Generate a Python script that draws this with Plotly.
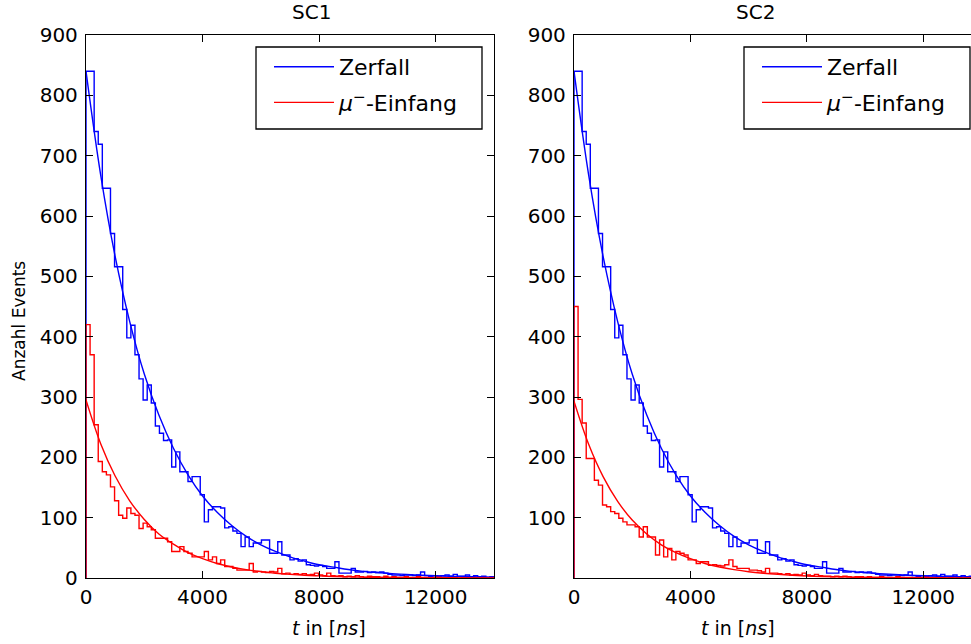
import numpy as np
import plotly.graph_objects as go

# ---------------- data ----------------
bin_width_ns = 140  # histogram bin width, 100 bins over 0..14000 ns

# SC1 / SC2 "Zerfall" (decay) histogram counts
zerfall_counts = [
    840, 840, 740, 719, 646, 646, 571, 516, 516, 445,
    398, 419, 370, 330, 295, 320, 290, 252, 240, 228,
    229, 184, 209, 176, 176, 160, 168, 168, 138, 93,
    113, 118, 118, 116, 83, 85, 78, 74, 52, 68,
    52, 58, 58, 63, 63, 41, 41, 60, 38, 38,
    30, 32, 28, 30, 22, 21, 20, 21, 19, 16,
    16, 27, 8, 8, 8, 16, 10, 10, 11, 9,
    10, 9, 10, 8, 6, 5, 5, 4, 5, 5,
    4, 5, 10, 4, 3, 4, 3, 4, 5, 3,
    6, 3, 3, 5, 2, 4, 2, 3, 1, 2,
]

# SC1 mu- capture histogram counts
einfang_sc1_counts = [
    420, 370, 254, 193, 176, 171, 151, 128, 104, 99,
    116, 107, 104, 82, 91, 85, 80, 66, 66, 66,
    60, 44, 44, 52, 44, 41, 35, 35, 35, 44,
    30, 35, 24, 30, 19, 19, 16, 13, 13, 13,
    24, 10, 11, 10, 9, 11, 10, 16, 7, 8,
    6, 7, 6, 7, 5, 6, 8, 5, 4, 8,
    4, 3, 4, 2, 3, 2, 4, 2, 1, 3,
    2, 2, 1, 3, 1, 2, 1, 1, 2, 1,
    1, 2, 1, 1, 0, 1, 2, 1, 0, 1,
    1, 0, 1, 1, 0, 1, 0, 1, 0, 1,
]

# SC2 mu- capture histogram counts
einfang_sc2_counts = [
    450, 296, 257, 198, 198, 162, 154, 121, 118, 110,
    107, 99, 93, 88, 88, 85, 68, 85, 68, 68,
    38, 63, 35, 49, 30, 44, 41, 38, 30, 30,
    24, 27, 27, 21, 22, 21, 20, 22, 30, 19,
    16, 16, 16, 13, 13, 12, 10, 16, 8, 8,
    7, 6, 7, 5, 6, 5, 8, 5, 4, 6,
    4, 3, 3, 2, 3, 2, 3, 2, 1, 2,
    2, 1, 2, 1, 1, 2, 1, 1, 1, 2,
    1, 1, 1, 0, 1, 1, 2, 1, 0, 1,
    1, 0, 1, 0, 1, 0, 1, 0, 1, 0,
]

# fit curves (read at 500 ns steps)
fit_t_ns = [0, 500, 1000, 1500, 2000, 2500, 3000, 3500, 4000, 4500,
            5000, 5500, 6000, 6500, 7000, 7500, 8000, 8500, 9000, 9500,
            10000, 10500, 11000, 11500, 12000, 12500, 13000, 13500, 14000]
fit_zerfall = [840, 669, 533, 425, 338, 270, 215, 171, 136, 109,
               87, 69, 55, 44, 35, 28, 22, 18, 14, 11,
               9, 7.2, 5.8, 4.6, 3.7, 3.0, 2.4, 1.9, 1.5]
fit_einfang_sc1 = [295, 223, 169, 128, 97, 73, 56, 42, 32, 24,
                   18.3, 13.8, 10.5, 7.9, 6.0, 4.5, 3.5, 2.6, 2.0, 1.5,
                   1.1, 0.9, 0.7, 0.5, 0.4, 0.3, 0.2, 0.2, 0.1]
fit_einfang_sc2 = [293, 222, 168, 127, 96, 73, 55, 42, 32, 24,
                   18.2, 13.8, 10.4, 7.9, 6.0, 4.5, 3.4, 2.6, 2.0, 1.5,
                   1.1, 0.9, 0.7, 0.5, 0.4, 0.3, 0.2, 0.2, 0.1]

x_ticks = [0, 4000, 8000, 12000]
x_tick_labels = ["0", "4000", "8000", "12000"]
y_ticks_sc1 = [0, 100, 200, 300, 400, 500, 600, 700, 800, 900]
y_ticks_sc2 = [100, 200, 300, 400, 500, 600, 700, 800, 900]

titles = ["SC1", "SC2"]
names = ["Zerfall", "<i>μ</i><sup>−</sup>-Einfang"]

# ---------------- figure ----------------
W, H = 971, 644
BLUE = "#0000ff"
RED = "#ff0000"
FONT = "DejaVu Sans"


def step_xy(counts):
    n = len(counts)
    edges = np.arange(n + 1) * bin_width_ns
    xs = [0.0] + list(edges[:-1]) + [edges[-1], edges[-1]]
    ys = [0.0] + list(counts) + [counts[-1], 0.0]
    return xs, ys


fig = go.Figure()


def add_panel(xa, ya, legend, hist_a, hist_b, fit_a, fit_b):
    xs, ys = step_xy(hist_a)
    fig.add_trace(go.Scatter(x=xs, y=ys, mode="lines", line=dict(color=BLUE, width=1.4, shape="hv"),
                             name=names[0], legend=legend, legendgroup=legend + "a",
                             xaxis=xa, yaxis=ya))
    xs, ys = step_xy(hist_b)
    fig.add_trace(go.Scatter(x=xs, y=ys, mode="lines", line=dict(color=RED, width=1.4, shape="hv"),
                             name=names[1], legend=legend, legendgroup=legend + "b",
                             xaxis=xa, yaxis=ya))
    fig.add_trace(go.Scatter(x=fit_t_ns, y=fit_a, mode="lines",
                             line=dict(color=BLUE, width=1.4, shape="spline", smoothing=1.0),
                             showlegend=False, xaxis=xa, yaxis=ya))
    fig.add_trace(go.Scatter(x=fit_t_ns, y=fit_b, mode="lines",
                             line=dict(color=RED, width=1.4, shape="spline", smoothing=1.0),
                             showlegend=False, xaxis=xa, yaxis=ya))


add_panel("x", "y", "legend", zerfall_counts, einfang_sc1_counts, fit_zerfall, fit_einfang_sc1)
add_panel("x2", "y2", "legend2", zerfall_counts, einfang_sc2_counts, fit_zerfall, fit_einfang_sc2)

ydom = [1 - 578 / H, 1 - 35 / H]
axis_common = dict(showgrid=False, zeroline=False, showline=True, linecolor="black", linewidth=1.3,
                   ticks="inside", ticklen=7, tickwidth=1, tickcolor="black", automargin=False,
                   tickfont=dict(family=FONT, size=20, color="black"))

legend_common = dict(yanchor="top", xanchor="left", bgcolor="rgba(255,255,255,0)", borderwidth=0,
                     font=dict(family=FONT, size=22, color="black"), tracegroupgap=4,
                     itemwidth=60, traceorder="grouped")

fig.update_layout(
    template="none",
    width=W, height=H,
    margin=dict(l=0, r=0, t=0, b=0, autoexpand=False),
    paper_bgcolor="white", plot_bgcolor="white",
    font=dict(family=FONT, color="black"),
    xaxis=dict(domain=[86 / W, 494 / W], range=[0, 14000], tickvals=x_ticks, ticktext=x_tick_labels,
               anchor="y", mirror="ticks", ticklabelstandoff=1, **axis_common),
    yaxis=dict(domain=ydom, range=[0, 900], tickvals=y_ticks_sc1, anchor="x", mirror="ticks",
               ticklabelstandoff=3, **axis_common),
    xaxis2=dict(domain=[574 / W, 1.0], range=[0, 13640], tickvals=x_ticks, ticktext=x_tick_labels,
                anchor="y2", mirror="ticks", ticklabelstandoff=1, **axis_common),
    yaxis2=dict(domain=ydom, range=[0, 900], tickvals=y_ticks_sc2, anchor="x2", mirror=False,
                ticklabelstandoff=3, **axis_common),
    legend=dict(x=269 / W, y=1 - 46 / H, **legend_common),
    legend2=dict(x=757 / W, y=1 - 46 / H, **legend_common),
)

# legend frames (matplotlib style boxes)
for x0 in (256, 744):
    fig.add_shape(type="rect", xref="paper", yref="paper",
                  x0=x0 / W, x1=(x0 + 226) / W, y0=1 - 129 / H, y1=1 - 47 / H,
                  line=dict(color="black", width=1.3), fillcolor="rgba(0,0,0,0)", layer="above")

# titles and axis labels
for cx, title in zip((290, 777), titles):
    fig.add_annotation(text=title, x=cx / W, y=1 - 12 / H, xref="paper", yref="paper",
                       yanchor="middle", showarrow=False, font=dict(family=FONT, size=20, color="black"))
    fig.add_annotation(text="<i>t</i> in [<i>ns</i>]", x=cx / W, y=1 - 628 / H, xref="paper", yref="paper",
                       yanchor="middle", showarrow=False, font=dict(family=FONT, size=19, color="black"))

fig.add_annotation(text="Anzahl Events", x=19 / W, y=1 - 321 / H, xref="paper", yref="paper",
                   xanchor="center", yanchor="middle", textangle=-90, showarrow=False,
                   font=dict(family=FONT, size=17, color="black"))

fig.write_html("out.html")
